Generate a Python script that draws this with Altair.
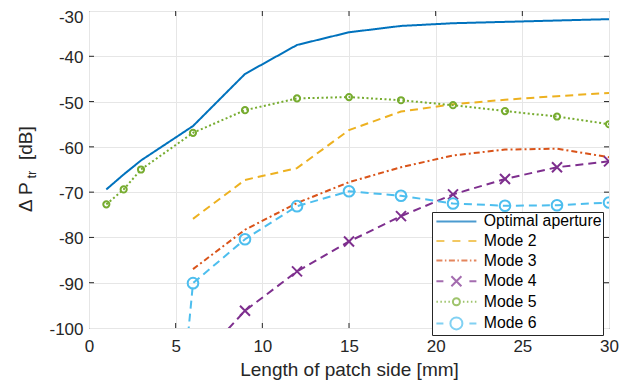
import altair as alt
import pandas as pd

# ---------------- data ----------------
series_names = ["Optimal aperture", "Mode 2", "Mode 3", "Mode 4", "Mode 5", "Mode 6"]
series_colors = ["#0072BD", "#EDB120", "#D95319", "#7E2F8E", "#77AC30", "#4DBEEE"]

x_opt = [1, 2, 3, 6, 9, 12, 15, 18, 21, 24, 27, 30]
y_opt = [-69.4, -66.1, -63.0, -55.4, -43.9, -37.5, -34.7, -33.3, -32.7, -32.4, -32.1, -31.8]

x_m2 = [6, 9, 12, 15, 18, 21, 24, 27, 30]
y_m2 = [-75.9, -67.3, -64.7, -56.3, -52.2, -50.6, -49.6, -48.8, -48.1]

x_m3 = [6, 9, 12, 15, 18, 21, 24, 27, 30]
y_m3 = [-87.0, -78.3, -72.4, -67.8, -64.5, -61.9, -60.6, -60.4, -62.3]

x_m4 = [6, 9, 12, 15, 18, 21, 24, 27, 30]
y_m4 = [-108.6, -96.2, -87.5, -80.9, -75.3, -70.5, -67.1, -64.5, -63.2]

x_m5 = [1, 2, 3, 6, 9, 12, 15, 18, 21, 24, 27, 30]
y_m5 = [-72.7, -69.4, -65.0, -56.9, -51.9, -49.3, -49.0, -49.7, -50.8, -52.1, -53.3, -55.0]

x_m6 = [5, 6, 9, 12, 15, 18, 21, 24, 27, 30]
y_m6 = [-130.0, -90.1, -80.4, -73.1, -69.8, -70.8, -72.5, -73.0, -72.9, -72.3]

x_ticks = [0, 5, 10, 15, 20, 25, 30]
y_ticks = [-100, -90, -80, -70, -60, -50, -40, -30]

# ---------------- styles ----------------
W, H = 520, 317
FONT = "Liberation Sans"
AX = "#262626"

xs = [x_opt, x_m2, x_m3, x_m4, x_m5, x_m6]
ys = [y_opt, y_m2, y_m3, y_m4, y_m5, y_m6]
dashes = [[1, 0], [8, 5], [6, 3, 2, 3], [8, 5], [2, 2.5], [8, 5]]
XPATH = "M-1,-1L1,1M-1,1L1,-1"
markers = [None, None, None, (XPATH, 100), ("circle", 38), ("circle", 113)]


def circ(r):
    return f"M-{r},0A{r},{r},0,1,1,{r},0A{r},{r},0,1,1,-{r},0"


legend_paths = [
    "M-4,0H4",
    "M-4,0H-2.4M-0.8,0H0.8M2.4,0H4",
    "M-4,0H-2.8M-2.3,0H-2.0M-1.5,0H-0.3M0.2,0H0.5M1.0,0H2.2M2.7,0H3.0M3.5,0H4",
    "M-4,0H-2.6M2.6,0H4" + XPATH,
    "M-4,0H-3.7M-3.2,0H-2.9M-2.4,0H-2.1M-1.6,0H-1.3M1.3,0H1.6M2.1,0H2.4M2.9,0H3.2M3.7,0H4" + circ(0.7),
    "M-4,0H-2.6M2.6,0H4" + circ(1.2),
]

xscale = alt.Scale(domain=[0, 30], nice=False, zero=False)
yscale = alt.Scale(domain=[-100, -30], nice=False, zero=False)

xaxis = alt.Axis(values=x_ticks, grid=True, ticks=False, domain=False, labelFlush=False,
                 labelOverlap=False, labelFont=FONT, labelFontSize=17, labelColor=AX,
                 labelPadding=10, title="Length of patch side [mm]", titleFont=FONT,
                 titleFontSize=19, titleFontWeight="normal", titleColor=AX, titlePadding=6)
yaxis = alt.Axis(values=y_ticks, grid=True, ticks=False, domain=False, labelFlush=False,
                 labelOverlap=False, labelFont=FONT, labelFontSize=17, labelColor=AX,
                 labelPadding=6,
                 labelOffset={"condition": {"test": "datum.value == -30", "value": 6}, "value": 1.5},
                 title=None, labelExpr="'' + datum.value")


def X(field):
    return alt.X(field, scale=xscale, axis=xaxis)


def Y(field):
    return alt.Y(field, scale=yscale, axis=yaxis)


layers = []
for i, name in enumerate(series_names):
    df = pd.DataFrame({"x": xs[i], "y": ys[i]})
    line = alt.Chart(df).mark_line(color=series_colors[i], strokeWidth=2,
                                   strokeDash=dashes[i], clip=True).encode(x=X("x:Q"), y=Y("y:Q"))
    layers.append(line)
    if markers[i] is not None:
        shp, sz = markers[i]
        pts = alt.Chart(df).mark_point(shape=shp, size=sz, filled=False, color=series_colors[i],
                                       strokeWidth=2, opacity=1, clip=True).encode(
            x=X("x:Q"), y=Y("y:Q"))
        layers.append(pts)

# inward ticks on the box
xt = pd.DataFrame({"v": x_ticks[1:-1]})
yt = pd.DataFrame({"v": y_ticks[1:-1]})
tick_style = dict(color=AX, strokeWidth=1)
layers += [
    alt.Chart(xt).mark_rule(**tick_style).encode(x=X("v:Q"), y=alt.value(H), y2=alt.value(H - 5)),
    alt.Chart(xt).mark_rule(**tick_style).encode(x=X("v:Q"), y=alt.value(0), y2=alt.value(5)),
    alt.Chart(yt).mark_rule(**tick_style).encode(y=Y("v:Q"), x=alt.value(0), x2=alt.value(5)),
    alt.Chart(yt).mark_rule(**tick_style).encode(y=Y("v:Q"), x=alt.value(W), x2=alt.value(W - 5)),
]

# y-axis title with subscript
one = alt.Data(values=[{"a": 1}])
ttl = dict(angle=270, align="left", baseline="alphabetic", font=FONT, color=AX)
layers += [
    alt.Chart(one).mark_text(fontSize=19, **ttl).encode(x=alt.value(-57.5), y=alt.value(201), text=alt.value("Δ P")),
    alt.Chart(one).mark_text(fontSize=13, **ttl).encode(x=alt.value(-53.5), y=alt.value(167.5), text=alt.value("tr")),
    alt.Chart(one).mark_text(fontSize=19, **ttl).encode(x=alt.value(-57.5), y=alt.value(149), text=alt.value("[dB]")),
]

# legend
leg = alt.Legend(orient="none", legendX=343, legendY=201, title=None, symbolSize=100,
                 symbolStrokeWidth=2, symbolOffset=15, labelOffset=19.5, padding=1.5,
                 rowPadding=2.6, strokeColor=AX, fillColor="white", labelFont=FONT,
                 labelFontSize=15.8, labelColor="black", labelLimit=0)
legdf = pd.DataFrame({"series": series_names})
layers.append(
    alt.Chart(legdf).transform_filter("false").mark_point(filled=False).encode(
        color=alt.Color("series:N", scale=alt.Scale(domain=series_names, range=series_colors), legend=leg),
        shape=alt.Shape("series:N", scale=alt.Scale(domain=series_names, range=legend_paths), legend=leg),
    )
)

chart = alt.layer(*layers).properties(
    width=W, height=H,
    autosize=alt.AutoSizeParams(type="none"),
    padding={"left": 81, "top": 3, "right": 15, "bottom": 54},
    background="white",
).configure_view(stroke=AX, strokeWidth=1).configure_axis(gridColor="#e6e6e6", gridWidth=1)

chart.save("out.html", embed_options={"renderer": "svg", "actions": False})
